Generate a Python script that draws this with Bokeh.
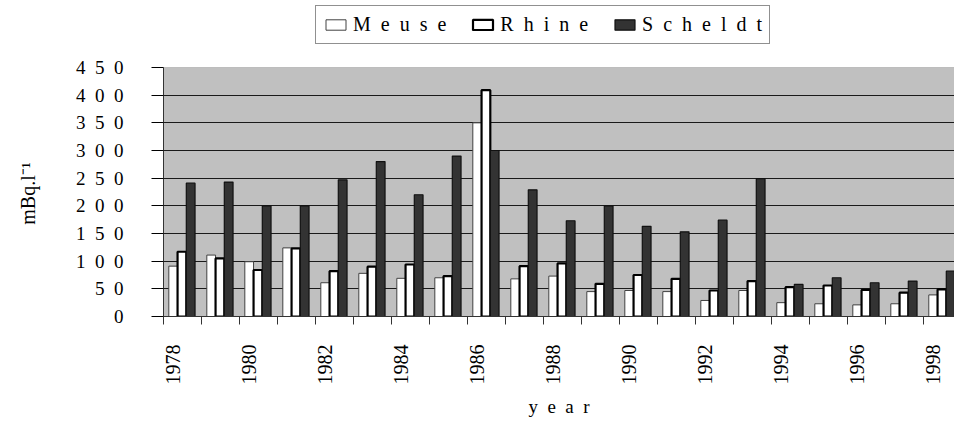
import numpy as np
from bokeh.plotting import figure
from bokeh.models import (ColumnDataSource, FixedTicker, CustomJSTickFormatter, Legend, LegendItem,
                          Range1d, BoxAnnotation)
from bokeh.transform import dodge
from bokeh.embed import file_html
from bokeh.resources import INLINE

# Activité (mBq/l) par fleuve, 1978-1998
years = list(range(1978, 1999))
meuse = [91, 111, 99, 124, 61, 78, 69, 70, 350, 68, 73, 45, 47, 45, 29, 47, 25, 23, 21, 23, 39]
rhine = [117, 105, 84, 123, 82, 90, 94, 73, 409, 91, 96, 59, 75, 68, 47, 64, 53, 56, 48, 43, 49]
scheldt = [241, 243, 200, 200, 247, 280, 220, 290, 300, 229, 173, 200, 163, 153, 174, 249, 58, 70, 61, 64, 82]
y_ticks = [0, 50, 100, 150, 200, 250, 300, 350, 400, 450]
series_names = ["Meuse", "Rhine", "Scheldt"]

FONT = "Liberation Serif"
SP = "\u2002"  # texte espacé comme dans l'original
Y_MAX = 450


def spaced(s):
    return SP.join(s)


source = ColumnDataSource(data=dict(
    x=np.array(years, dtype=float),
    meuse=meuse, rhine=rhine, scheldt=scheldt,
))

# le cadre monte jusqu'en haut pour y loger la légende; la zone grise s'arrête à 450
p = figure(width=954, height=421, frame_width=791, frame_height=316, title=None,
           output_backend="svg", toolbar_location=None, tools="",
           x_range=Range1d(1977.5, 1998.316), y_range=Range1d(0, Y_MAX * 316 / 249),
           min_border_left=163, min_border_right=0, min_border_top=0, min_border_bottom=105)

p.background_fill_color = "white"
p.border_fill_color = "white"
p.outline_line_color = None

p.add_layout(BoxAnnotation(bottom=0, top=Y_MAX, fill_color="#c0c0c0", fill_alpha=1,
                           line_color="#707070", line_width=1, level="image"))

w = 0.23
r_m = p.vbar(x=dodge('x', -0.245), top='meuse', width=w, source=source,
             fill_color="white", line_color="#404040", line_width=1)
r_r = p.vbar(x=dodge('x', -0.015), top='rhine', width=w, source=source,
             fill_color="white", line_color="black", line_width=2.2)
r_s = p.vbar(x=dodge('x', 0.215), top='scheldt', width=w, source=source,
             fill_color="#333333", line_color="#111111", line_width=1.2)

# grille
p.xgrid.visible = False
p.ygrid.ticker = FixedTicker(ticks=y_ticks[:-1])
p.ygrid.grid_line_color = "#1a1a1a"
p.ygrid.grid_line_width = 1

# axe y
p.yaxis.ticker = FixedTicker(ticks=y_ticks)
p.yaxis.bounds = (0, Y_MAX)
p.yaxis.major_label_overrides = {t: spaced(str(t)) for t in y_ticks}
p.yaxis.major_tick_in = 0
p.yaxis.major_tick_out = 12
p.yaxis.minor_tick_line_color = None
p.yaxis.major_label_standoff = 28
p.yaxis.major_label_text_font = FONT
p.yaxis.major_label_text_font_size = "19px"
p.yaxis.major_label_text_color = "black"
# espaces de fin : recentre le titre sur la zone grise plutôt que sur tout le cadre
p.yaxis.axis_label = "mBq.l⁻¹" + SP * 7
p.yaxis.axis_label_text_font = FONT
p.yaxis.axis_label_text_font_style = "normal"
p.yaxis.axis_label_text_font_size = "20px"
p.yaxis.axis_label_text_color = "black"
p.yaxis.axis_label_standoff = 34
p.yaxis.axis_line_color = "#333333"

# axe x : libellés tous les deux ans, graduations entre les années
p.xaxis.ticker = FixedTicker(ticks=[y - 0.24 for y in years if y % 2 == 0],
                             minor_ticks=[y - 0.5 for y in years] + [years[-1] + 0.5])
p.xaxis.formatter = CustomJSTickFormatter(code="return String(Math.round(tick))")
p.xaxis.major_tick_out = 0
p.xaxis.major_tick_in = 0
p.xaxis.minor_tick_out = 8
p.xaxis.minor_tick_in = 0
p.xaxis.minor_tick_line_color = "#333333"
p.xaxis.major_label_orientation = np.pi / 2
p.xaxis.major_label_standoff = 20
p.xaxis.major_label_text_font = FONT
p.xaxis.major_label_text_font_size = "20px"
p.xaxis.major_label_text_color = "black"
p.xaxis.axis_label = spaced("year")
p.xaxis.axis_label_text_font = FONT
p.xaxis.axis_label_text_font_style = "normal"
p.xaxis.axis_label_text_font_size = "19px"
p.xaxis.axis_label_text_color = "black"
p.xaxis.axis_label_standoff = 8
p.xaxis.axis_line_color = "#333333"

legend = Legend(items=[LegendItem(label=spaced(n), renderers=[r]) for n, r in zip(series_names, [r_m, r_r, r_s])],
                orientation="horizontal", location=(152, 272),
                label_text_font=FONT, label_text_font_size="20px", label_text_color="black",
                glyph_width=25, glyph_height=13, label_standoff=5, spacing=24,
                padding=7, margin=0, border_line_color="#222222", border_line_width=1,
                background_fill_color="white", background_fill_alpha=1)
p.add_layout(legend, "center")

open("out.html", "w").write(file_html(p, INLINE))
